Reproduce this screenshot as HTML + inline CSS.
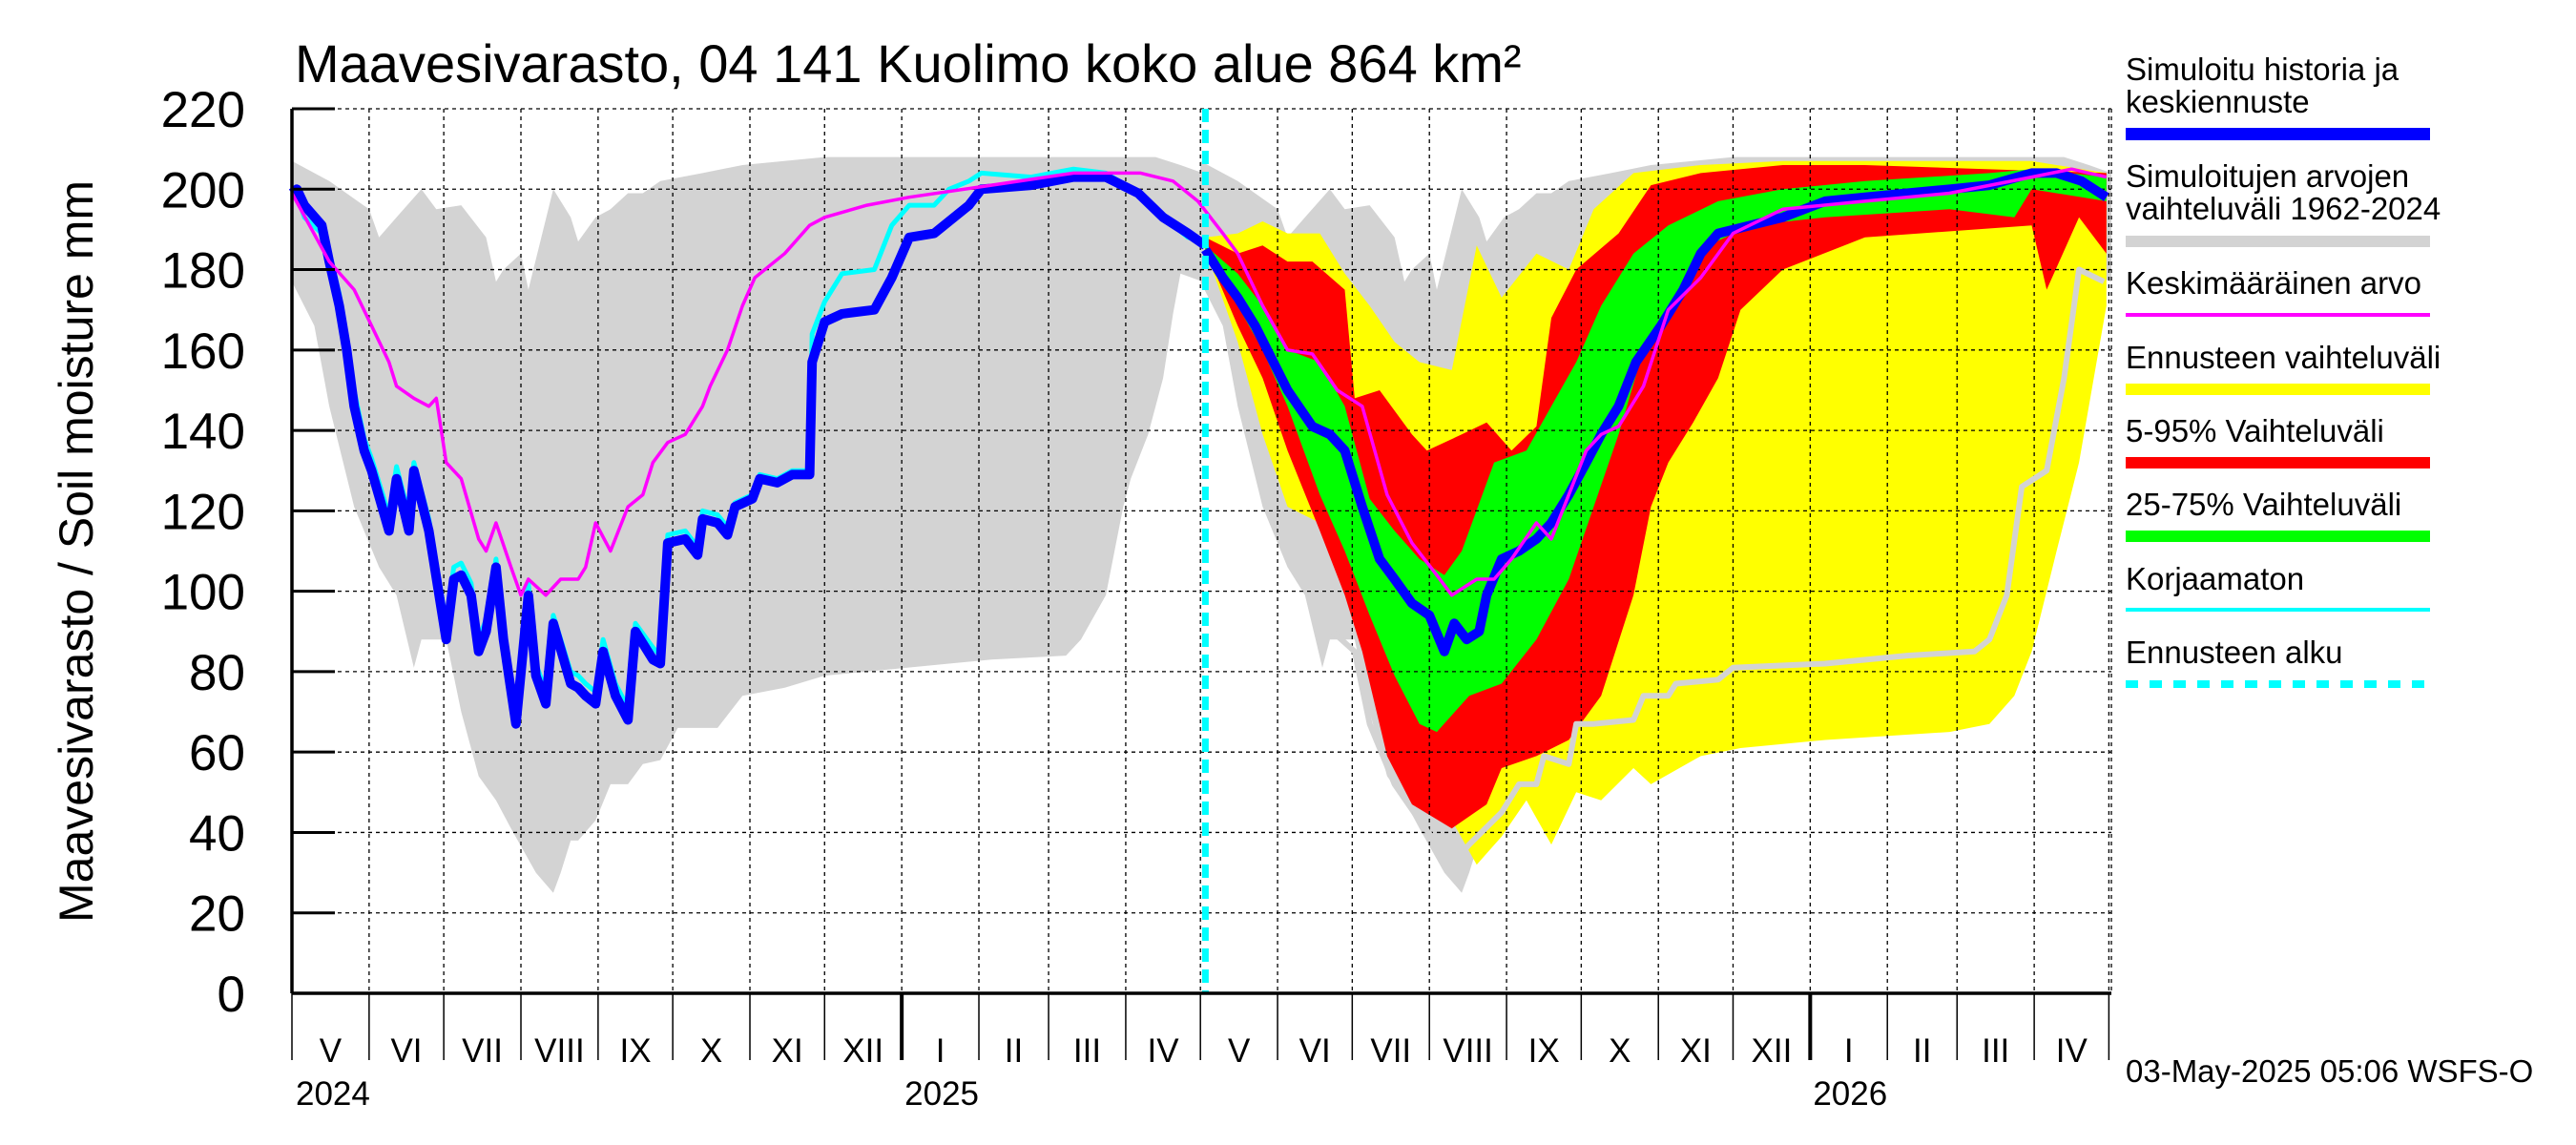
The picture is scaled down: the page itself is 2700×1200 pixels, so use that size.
<!DOCTYPE html>
<html><head><meta charset="utf-8">
<style>
html,body{margin:0;padding:0;background:#fff;}
svg{display:block;font-family:"Liberation Sans",Arial,sans-serif;}
</style></head>
<body>
<svg id="chart" width="2700" height="1200" viewBox="0 0 2700 1200" xmlns="http://www.w3.org/2000/svg">
<text x="309" y="86" font-size="56">Maavesivarasto, 04 141 Kuolimo koko alue 864 km²</text>
<text transform="translate(97,578) rotate(-90)" text-anchor="middle" font-size="50">Maavesivarasto / Soil moisture   mm</text>
<g id="bands"></g>
<g id="grid"></g>
<g id="lines"></g>
<g id="axes"></g>
<g id="legend">
 <text x="2228" y="84" font-size="33">Simuloitu historia ja</text>
 <text x="2228" y="118" font-size="33">keskiennuste</text>
 <rect x="2228" y="134" width="319" height="13" fill="#0000ff"/>
 <text x="2228" y="196" font-size="33">Simuloitujen arvojen</text>
 <text x="2228" y="230" font-size="33">vaihteluväli 1962-2024</text>
 <rect x="2228" y="247" width="319" height="12" fill="#d3d3d3"/>
 <text x="2228" y="308" font-size="33">Keskimääräinen arvo</text>
 <rect x="2228" y="328" width="319" height="4" fill="#ff00ff"/>
 <text x="2228" y="386" font-size="33">Ennusteen vaihteluväli</text>
 <rect x="2228" y="402" width="319" height="12" fill="#ffff00"/>
 <text x="2228" y="463" font-size="33">5-95% Vaihteluväli</text>
 <rect x="2228" y="479" width="319" height="12" fill="#ff0000"/>
 <text x="2228" y="540" font-size="33">25-75% Vaihteluväli</text>
 <rect x="2228" y="556" width="319" height="12" fill="#00ff00"/>
 <text x="2228" y="618" font-size="33">Korjaamaton</text>
 <rect x="2228" y="637" width="319" height="4" fill="#00ffff"/>
 <text x="2228" y="695" font-size="33">Ennusteen alku</text>
 <line x1="2228" y1="717" x2="2547" y2="717" stroke="#00ffff" stroke-width="8" stroke-dasharray="13,12"/>
</g>
<text x="2228" y="1134" font-size="33">03-May-2025 05:06 WSFS-O</text>
</svg>
<script>
// ---- data (day offsets from 2024-05-01, values in mm) ----
const climDays = [0,15,31,35,42,52,58,68,78,82,85,92,95,105,112,115,122,128,135,141,148,165,181,214,245,300,347,357,366];
const climUpper = [207,202,195,188,193,200,195,196,188,177,180,184,175,200,193,187,193,195,199,199,202,204,206,208,208,208,208,206,204];
const climLowDays = [0,9,15,25,35,42,49,52,62,68,75,82,88,98,105,108,112,115,122,128,135,141,148,155,171,181,198,214,231,264,281,311,317,327,334,337,344,350,354,357,366];
const climLower = [177,166,146,121,106,99,81,88,88,70,54,48,41,30,25,30,38,38,43,52,52,57,58,66,66,74,76,79,80,82,83,84,88,99,121,128,139,153,169,179,177];

const histDays = [0,2,5,12,15,19,22,25,29,32,39,42,47,49,55,62,65,68,72,75,78,82,85,90,95,98,102,105,112,115,118,122,125,130,135,138,145,148,151,158,163,165,171,175,178,185,188,195,201,208,209,214,221,234,241,248,258,264,272,277,297,314,327,340,350,360,367];
const histVals = [199,200,196,191,182,171,160,146,135,130,115,128,115,130,115,88,103,104,99,85,90,106,88,67,99,79,72,92,77,76,74,72,85,74,68,90,83,82,112,113,109,118,117,114,121,123,128,127,129,129,157,167,169,170,178,188,189,192,196,200,201,203,203,199,193,189,186];
const cyanVals = [199,199,193,189,184,174,163,150,138,133,119,131,119,132,118,92,106,107,102,88,93,108,91,70,102,82,75,94,80,79,77,75,88,77,71,92,86,84,114,115,111,120,119,116,122,124,129,128,130,130,164,172,179,180,191,196,196,200,202,204,203,205,204,199,193,188,187];

const fcDays = [367,374,380,387,400,410,417,423,430,437,443,450,457,463,467,472,477,480,486,493,500,506,513,520,526,533,540,550,559,566,573,586,599,616,632,649,666,682,699,709,719,729];
const fcMedian = [185,178,173,166,150,141,139,135,121,108,103,97,94,85,92,88,90,99,108,110,113,117,124,132,139,146,157,166,175,184,189,191,193,197,198,199,200,201,204,204,202,198];

const meanDays = [0,15,25,32,39,42,49,55,58,62,68,75,78,82,88,92,95,102,108,115,118,122,128,135,141,145,151,158,165,168,175,181,186,198,208,214,231,248,281,314,341,354,364,374,380,390,400,410,420,430,440,450,460,466,476,483,490,500,506,513,520,526,533,543,553,566,579,599,632,666,699,715,729];
const meanVals = [199,182,175,166,157,151,148,146,148,132,128,113,110,117,106,99,103,99,103,103,106,117,110,121,124,132,137,139,146,151,160,171,178,184,191,193,196,198,201,204,204,202,197,189,184,171,160,159,150,146,124,112,104,99,103,103,108,117,113,124,135,139,141,151,170,178,189,195,197,199,203,205,203,197];

const yTopDays = [367,380,390,400,413,423,433,443,453,466,476,486,500,513,523,539,566,599,699,729];
const yTopVals = [188,189,192,189,189,179,171,162,157,155,186,173,184,180,195,204,206,207,207,204];
const rTopDays = [367,380,390,400,410,423,427,437,450,456,470,480,490,500,506,516,533,546,566,599,632,729];
const rTopVals = [188,184,186,182,182,175,148,150,139,135,139,142,135,141,168,180,189,201,204,206,206,204];
const gTopDays = [367,380,390,400,413,423,433,443,453,463,470,483,496,506,516,526,539,553,573,599,632,682,699,729];
const gTopVals = [186,179,171,160,157,146,123,115,108,104,110,132,135,146,157,171,184,191,197,200,202,204,205,203];
const gBotDays = [367,380,390,400,413,423,433,443,453,460,473,486,500,513,523,533,543,556,569,586,616,666,692,699,729];
const gBotVals = [185,171,160,146,124,110,94,79,67,65,74,77,88,103,121,139,160,171,186,191,193,195,193,200,197];
const rBotDays = [367,380,390,400,413,423,430,440,450,466,480,486,500,513,526,539,546,553,563,573,582,599,632,699,705,718,729];
const rBotVals = [185,166,153,135,115,99,85,59,47,41,47,56,59,63,74,99,121,132,142,153,170,180,188,191,175,193,184];
const yBotDays = [367,380,390,400,413,423,433,443,453,466,476,486,496,506,516,526,539,546,566,582,616,666,682,692,699,709,718,729];
const yBotVals = [185,162,139,121,117,103,85,67,48,43,32,39,48,37,50,48,56,52,59,61,63,65,67,74,85,110,132,171];

const scenDays = [418,427,433,443,453,466,473,486,493,500,503,513,516,523,539,543,553,556,573,579,616,649,676,682,689,695,705,712,718,728];
const scenVals = [90,85,67,52,43,32,37,45,52,52,59,57,67,67,68,74,74,77,78,81,82,84,85,88,99,126,130,153,180,177];

const yTicks = [0,20,40,60,80,100,120,140,160,180,200,220];
const monthStarts = [0,31,61,92,123,153,184,214,245,276,304,335,365,396,426,457,488,518,549,579,610,641,669,700,730];
const monthLabels = ["V","VI","VII","VIII","IX","X","XI","XII","I","II","III","IV","V","VI","VII","VIII","IX","X","XI","XII","I","II","III","IV"];
const yearDays = [0,245,610];
const yearLabels = ["2024","2025","2026"];
const forecastStartDay = 367;

// ---- scales ----
const X0=306, X1=2213, DMAX=731, Y0=1041, Y1=114, VMAX=220;
function xs(d){return X0+(d/DMAX)*(X1-X0);}
function ys(v){return Y0-(v/VMAX)*(Y0-Y1);}
const NS="http://www.w3.org/2000/svg";
function mk(tag,attrs,parent){const e=document.createElementNS(NS,tag);for(const k in attrs)e.setAttribute(k,attrs[k]);parent.appendChild(e);return e;}
function pts(days,vals,off){return days.map((d,i)=>xs(d+(off||0)).toFixed(1)+","+ys(vals[i]).toFixed(1));}
const bands=document.getElementById('bands'),grid=document.getElementById('grid'),lines=document.getElementById('lines'),axes=document.getElementById('axes');

function band(td,tv,bd,bv,fill,name,off){
  const p=pts(td,tv,off).concat(pts(bd,bv,off).reverse());
  const el=mk('polygon',{points:p.join(' '),fill:fill},bands);
  
  
}
band(climDays,climUpper,climLowDays,climLower,'#d3d3d3','historical-range-2024',0);
band(climDays,climUpper,climLowDays,climLower,'#d3d3d3','historical-range-2025',365);
band(yTopDays,yTopVals,yBotDays,yBotVals,'#ffff00','forecast-range-band');
band(rTopDays,rTopVals,rBotDays,rBotVals,'#ff0000','band-5-95');
band(gTopDays,gTopVals,gBotDays,gBotVals,'#00ff00','band-25-75');

// grid
yTicks.forEach(v=>{
  if(v===0)return;
  const g=mk('line',{x1:X0,x2:X1,y1:ys(v),y2:ys(v),stroke:'#000','stroke-width':1.3,'stroke-dasharray':'4,4'},grid);
  
  
});
monthStarts.forEach(d=>{
  if(d===0)return;
  const g=mk('line',{x1:xs(d),x2:xs(d),y1:Y1,y2:Y0,stroke:'#000','stroke-width':1.3,'stroke-dasharray':'4,4'},grid);
  
  
});
{const g=mk('line',{x1:X1,x2:X1,y1:Y1,y2:Y0,stroke:'#000','stroke-width':1.3,'stroke-dasharray':'4,4'},grid);

}

function line(days,vals,color,w,name){
  const el=mk('polyline',{points:pts(days,vals).join(' '),fill:'none',stroke:color,'stroke-width':w,'stroke-linejoin':'round'},lines);
  
  
}
line(scenDays,scenVals,'#d3d3d3',6,'scenario-line');
line(histDays,cyanVals,'#00ffff',5,'uncorrected-line');
line(histDays,histVals,'#0000ff',10,'simulated-history-line');
line(fcDays,fcMedian,'#0000ff',10,'forecast-median-line');
line(meanDays,meanVals,'#ff00ff',3.5,'mean-line');

{const el=mk('line',{x1:xs(forecastStartDay),x2:xs(forecastStartDay),y1:Y1,y2:Y0,stroke:'#00ffff','stroke-width':7,'stroke-dasharray':'14,8'},lines);

}

// axes
{const a=mk('line',{x1:X0,x2:X0,y1:Y1,y2:Y0,stroke:'#000','stroke-width':3.5},axes);


const b=mk('line',{x1:X0,x2:X1,y1:Y0,y2:Y0,stroke:'#000','stroke-width':3.5},axes);

}
yTicks.forEach(v=>{
  const t=mk('line',{x1:X0,x2:X0+45,y1:ys(v),y2:ys(v),stroke:'#000','stroke-width':3},axes);
  
  
  const l=mk('text',{x:257,y:ys(v)+19,'text-anchor':'end','font-size':53},axes);
  l.textContent=String(v);
  
  
});
monthStarts.forEach((d,i)=>{
  const isYear=yearDays.indexOf(d)>=0 && d>0;
  const t=mk('line',{x1:xs(d),x2:xs(d),y1:Y0,y2:1111,stroke:'#000','stroke-width':isYear?4:1.5},axes);
  
  
  if(i<monthLabels.length){
    const cx=(xs(d)+xs(monthStarts[i+1]))/2;
    const l=mk('text',{x:cx,y:1113,'text-anchor':'middle','font-size':35},axes);
    l.textContent=monthLabels[i];
    
    
  }
});
yearDays.forEach((d,i)=>{
  const l=mk('text',{x:xs(d)+(i===0?4:3),y:1158,'font-size':35},axes);
  l.textContent=yearLabels[i];
  
  
});
</script>
</body></html>
